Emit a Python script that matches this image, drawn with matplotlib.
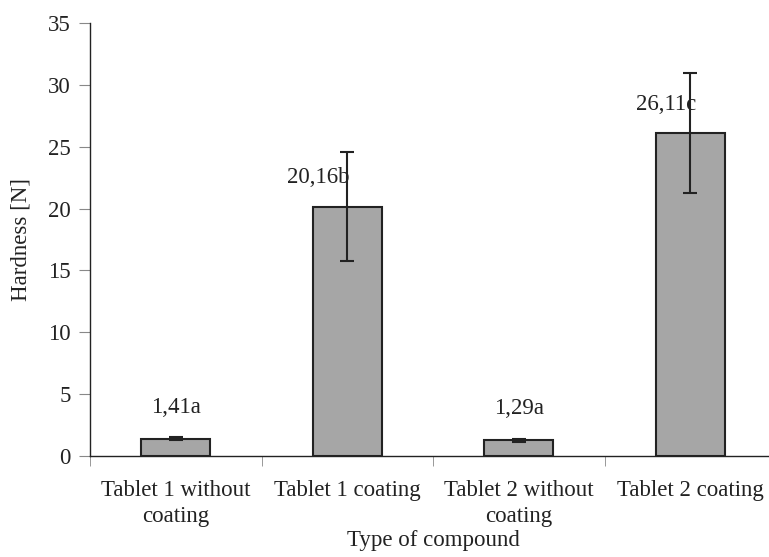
import matplotlib
matplotlib.use("Agg")
import matplotlib.pyplot as plt
import numpy as np

categories = ["Tablet 1 without\ncoating", "Tablet 1 coating", "Tablet 2 without\ncoating", "Tablet 2 coating"]
hardness = [1.41, 20.16, 1.29, 26.11]
errors = [0.12, 4.42, 0.12, 4.85]
labels = ["1,41a", "20,16b", "1,29a", "26,11c"]

plt.rcParams['font.family'] = ['Liberation Serif', 'DejaVu Serif']

W, H = 769, 557
fig = plt.figure(figsize=(W / 100, H / 100), dpi=100)
ax = fig.add_axes([90 / W, (H - 456) / H, 686 / W, 433 / H])

x = np.arange(len(categories))
ax.bar(x, hardness, width=0.40, color='#a6a6a6', edgecolor='#222222', linewidth=1.5, zorder=2)
ax.errorbar(x, hardness, yerr=errors, fmt='none', ecolor='#222222', elinewidth=1.5,
            capsize=5, capthick=1.5, zorder=3)

# label placement as in the original (some shifted left)
label_pos = [(0, 3.9), (-0.17, 22.5), (0, 3.8), (-0.14, 28.4)]
for lab, (dx, yy), xi in zip(labels, label_pos, x):
    ax.text(xi + dx, yy, lab, ha='center', va='center', fontsize=16.5, color='#222222', zorder=4)

ax.set_xlim(-0.5, 3.5)
ax.set_ylim(0, 35)
ax.set_yticks(range(0, 36, 5))
ax.set_xticks(x)
ax.set_xticklabels(categories, fontsize=16.5, color='#222222', linespacing=1.35)
ax.set_xticks(np.arange(-0.5, 3.6, 1), minor=True)
ax.tick_params(axis='x', which='major', length=0, pad=17)
ax.tick_params(axis='x', which='minor', length=7, color='#888888', direction='out')
ax.tick_params(axis='y', length=8, color='#888888', labelsize=16.5, labelcolor='#222222', pad=6)

for s in ['top', 'right']:
    ax.spines[s].set_visible(False)
ax.spines['left'].set_color('#222222')
ax.spines['bottom'].set_color('#222222')
ax.spines['left'].set_linewidth(1.0)
ax.spines['bottom'].set_linewidth(1.0)

ax.set_ylabel("Hardness [N]", fontsize=16.5, color='#222222', labelpad=12)
ax.set_xlabel("Type of compound", fontsize=16.5, color='#222222', labelpad=2)

fig.savefig("out.png", dpi=100)
